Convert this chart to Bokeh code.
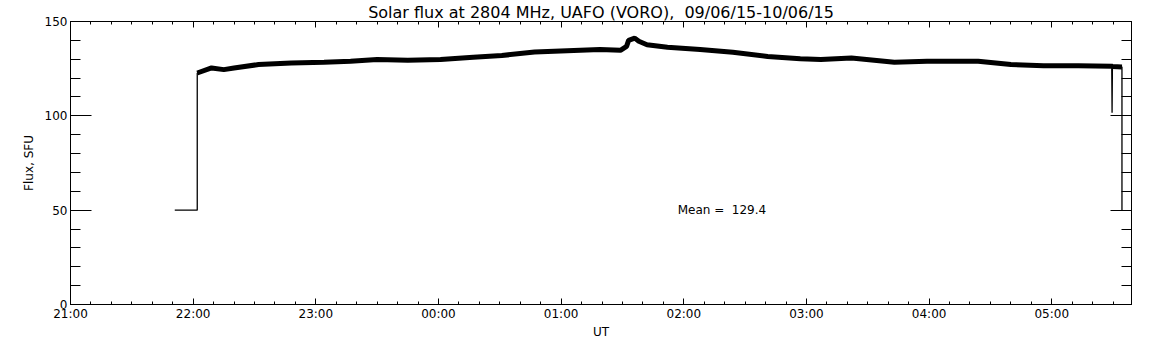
from bokeh.plotting import figure
from bokeh.models import (Range1d, LinearAxis, FixedTicker, Label, ColumnDataSource,
                          CustomLabelingPolicy)
from bokeh.embed import file_html
from bokeh.resources import INLINE

# ---------------- data ----------------
title_text = "Solar flux at 2804 MHz, UAFO (VORO), \u00a009/06/15-10/06/15"
x_label = "UT"
y_label = "Flux, SFU"
mean_text = "Mean = \u00a0129.4"
mean_time = "01:57"
mean_level = 50

x_start = "21:00"
x_end = "05:39"
x_tick_labels = ["21:00", "22:00", "23:00", "00:00", "01:00",
                 "02:00", "03:00", "04:00", "05:00"]
y_ticks = [0, 50, 100, 150]
y_minor_step = 10

times = ["21:51", "22:02", "22:02", "22:09", "22:15", "22:20", "22:32",
         "22:48", "23:04", "23:17", "23:30", "23:45", "00:01", "00:17",
         "00:31", "00:47", "01:03", "01:19", "01:29", "01:32", "01:33",
         "01:36", "01:38", "01:42", "01:52", "02:08", "02:24", "02:41",
         "02:57", "03:07", "03:22", "03:43", "03:59", "04:24", "04:40",
         "04:56", "05:13", "05:29:20", "05:29:30", "05:29:40", "05:34:20",
         "05:34:20"]
flux = [50, 50, 122.7, 125.4, 124.5, 125.4, 127.2,
        128.0, 128.4, 128.9, 129.8, 129.4, 129.8, 131.0,
        132.0, 133.8, 134.5, 135.1, 134.7, 136.8, 140.0,
        141.2, 139.5, 137.7, 136.4, 135.1, 133.7, 131.5,
        130.3, 129.8, 130.6, 128.4, 128.9, 128.9, 127.2,
        126.6, 126.6, 126.3, 101.6, 126.2, 125.9,
        50]


def hours(t):
    parts = [int(s) for s in t.split(":")]
    h = parts[0] + parts[1] / 60.0 + (parts[2] / 3600.0 if len(parts) > 2 else 0.0)
    if h < 21:
        h += 24
    return h - 21


xs = [hours(t) for t in times]
src_all = ColumnDataSource(dict(x=xs, y=flux))
band = [(x, y) for x, y in zip(xs, flux) if y > 110]
src_band = ColumnDataSource(dict(x=[b[0] for b in band], y=[b[1] for b in band]))

x_max = hours(x_end)

p = figure(width=1150, height=345,
           x_range=Range1d(hours(x_start), x_max), y_range=Range1d(y_ticks[0], y_ticks[-1]),
           output_backend="svg", toolbar_location=None,
           min_border_left=70, min_border_right=19,
           min_border_top=20, min_border_bottom=41)
p.xgrid.visible = False
p.ygrid.visible = False
p.outline_line_color = "black"
p.background_fill_color = "white"
p.border_fill_color = "white"

FONT = "DejaVu Sans"

p.title.text = title_text
p.title.text_font = FONT
p.title.text_font_size = "16px"
p.title.text_font_style = "normal"
p.title.text_color = "black"
p.title.align = "center"
p.title.standoff = 0

x_major = list(range(len(x_tick_labels)))
x_minor = [i / 6.0 for i in range(0, 6 * len(x_tick_labels) + 1)]
xticker = FixedTicker(ticks=x_major, minor_ticks=x_minor)
yticker = FixedTicker(ticks=y_ticks,
                      minor_ticks=list(range(y_ticks[0], y_ticks[-1] + 1, y_minor_step)))
overrides = {i: lab for i, lab in enumerate(x_tick_labels)}

hide_labels = "try { return new indices.constructor(indices.size, 0) } catch (e) { return indices }"


def style(ax, major_len, minor_len, labels=True):
    ax.major_tick_in = major_len
    ax.major_tick_out = 0
    ax.minor_tick_in = minor_len
    ax.minor_tick_out = 0
    ax.axis_line_color = "black"
    ax.major_tick_line_color = "black"
    ax.minor_tick_line_color = "black"
    ax.major_label_text_font = FONT
    ax.major_label_text_font_size = "12px"
    ax.major_label_text_color = "black"
    ax.axis_label_text_font = FONT
    ax.axis_label_text_font_size = "12px"
    ax.axis_label_text_font_style = "normal"
    ax.axis_label_text_color = "black"
    if not labels:
        ax.major_label_text_font_size = "0px"
        ax.major_label_standoff = 0
        ax.axis_label_standoff = 0
        ax.major_label_policy = CustomLabelingPolicy(code=hide_labels)


xb = p.xaxis[0]
xb.ticker = xticker
xb.major_label_overrides = overrides
style(xb, 6, 3)
xb.major_label_standoff = 2
xb.axis_label = x_label
xb.axis_label_standoff = 1

yl = p.yaxis[0]
yl.ticker = yticker
style(yl, 21, 10)
yl.major_label_standoff = 3
yl.axis_label = y_label
yl.axis_label_standoff = 6

xt = LinearAxis(ticker=xticker)
style(xt, 6, 3, labels=False)
p.add_layout(xt, "above")

yr = LinearAxis(ticker=yticker)
style(yr, 21, 10, labels=False)
p.add_layout(yr, "right")

p.line("x", "y", source=src_all, line_color="black", line_width=1.3)
p.line("x", "y", source=src_band, line_color="black", line_width=5)

p.add_layout(Label(x=hours(mean_time), y=mean_level, text=mean_text,
                   text_font=FONT, text_font_size="12px", text_color="black",
                   text_align="left", text_baseline="alphabetic"))

open("out.html", "w").write(file_html(p, INLINE))
